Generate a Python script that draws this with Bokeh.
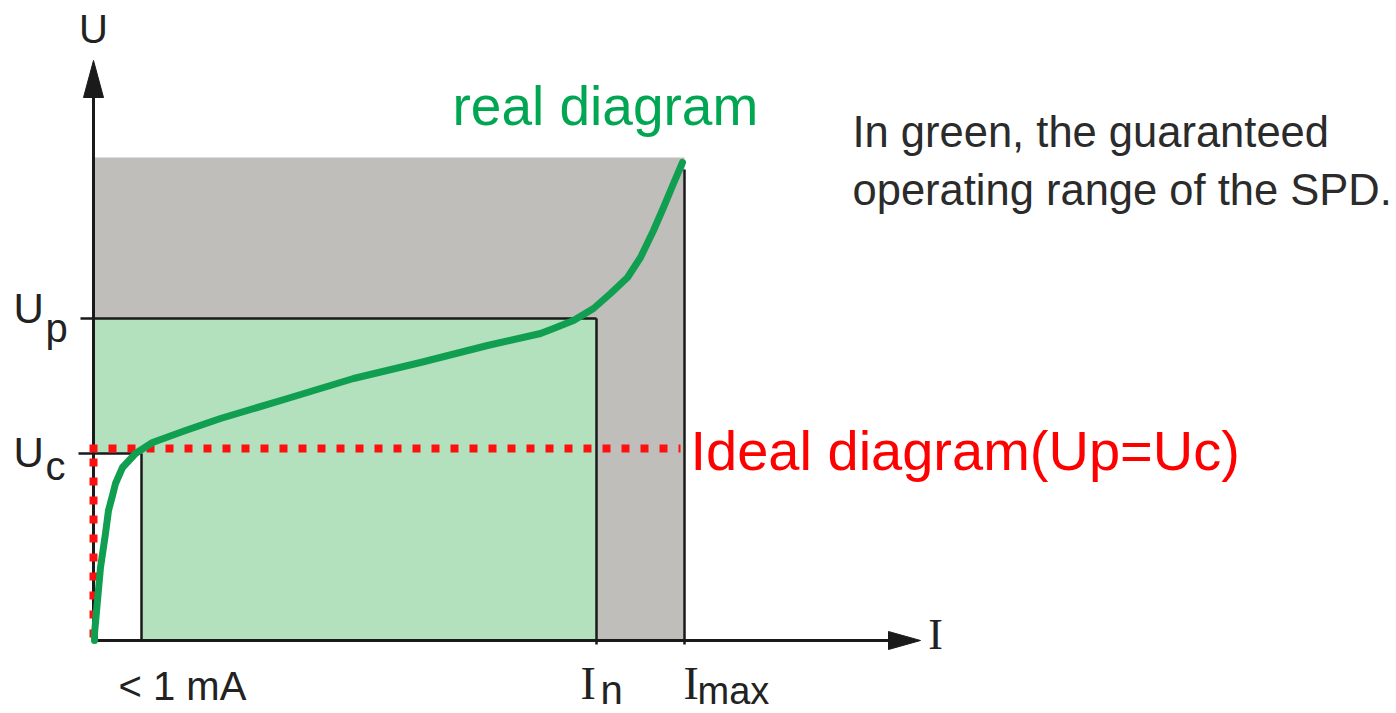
from bokeh.plotting import figure
from bokeh.models import Range1d
from bokeh.core.properties import value
from bokeh.embed import file_html
from bokeh.resources import INLINE

# ---- diagram values (units: I and U in diagram units) ----
I_leak = 48      # "< 1 mA"
I_n = 503
I_max = 591
U_c = 187
U_p = 322
U_top = 483
U_ideal = 192    # ideal clamp level (Up = Uc)
I_axis_end = 827
U_axis_end = 580

# real V-I characteristic (green curve)
curve_I = [1, 1, 4, 7, 12, 15, 19, 22, 29, 42, 59, 92, 127, 194, 260, 327, 394,
           447, 460, 480, 500, 517, 534, 547, 560, 570, 580, 589]
curve_U = [0, 7, 40, 73, 107, 130, 145, 157, 173, 187, 198, 210, 222, 242, 262, 278, 295,
           307, 312, 320, 332, 347, 363, 383, 410, 433, 457, 478]

SANS = "Liberation Sans"
SERIF = "Liberation Serif"
DARK = "#222222"

p = figure(width=1396, height=713, output_backend="svg", toolbar_location=None,
           x_range=Range1d(-93, 1303), y_range=Range1d(-73, 640), min_border=0)
p.axis.visible = False
p.grid.visible = False
p.outline_line_color = None
p.background_fill_color = "white"
p.border_fill_color = "white"

# regions
p.quad(left=[0], right=[I_max], bottom=[0], top=[U_top], fill_color="#bfbebb", line_color=None)
p.quad(left=[0], right=[I_n], bottom=[0], top=[U_p], fill_color="#b3e0bd", line_color=None)
p.quad(left=[0], right=[I_leak], bottom=[0], top=[U_c], fill_color="white", line_color=None)

# black guide lines
lw = 2.5
p.line([-13, I_n], [U_p, U_p], line_color="#1a1a1a", line_width=lw)
p.line([I_n, I_n], [-4, U_p], line_color="#1a1a1a", line_width=lw)
p.line([-15, I_leak], [U_c, U_c], line_color="#1a1a1a", line_width=lw)
p.line([I_leak, I_leak], [0, U_c], line_color="#1a1a1a", line_width=lw)
p.line([I_max, I_max], [-4, U_top - 12], line_color="#1a1a1a", line_width=lw)

# axes with arrows
p.line([0, I_axis_end - 30], [0, 0], line_color="#1a1a1a", line_width=3)
p.line([0, 0], [0, U_axis_end - 35], line_color="#1a1a1a", line_width=3)
p.patch([I_axis_end - 32, I_axis_end, I_axis_end - 32], [-9, 0, 9], fill_color="#1a1a1a", line_color="#1a1a1a")
p.patch([-10, 0, 10], [U_axis_end - 37, U_axis_end, U_axis_end - 37], fill_color="#1a1a1a", line_color="#1a1a1a")

# red ideal diagram (dotted)
p.line([-4, 587], [U_ideal, U_ideal], line_color="#ff1010", line_width=8, line_dash="8 11", line_cap="butt")
p.line([0, 0], [3, U_ideal], line_color="#ff1010", line_width=8, line_dash="8 11", line_cap="butt")

# green real curve
p.line(curve_I, curve_U, line_color="#109f50", line_width=7, line_join="round", line_cap="round")

def txt(x, y, s, size, color=DARK, font=SANS, align="left"):
    # y is the intended baseline; compensate renderer's baseline placement
    p.text(x=[x], y=[y + 0.36 * size], text=[s], text_font=value(font), text_font_size=f"{size}px",
           text_color=color, text_align=align, text_baseline="alphabetic")

# axis labels
txt(0, 597, "U", 40, align="center")
txt(842, -10, "I", 44, font=SERIF, align="center")
txt(-80, 317, "U", 42)
txt(-48, 298, "p", 40)
txt(-80, 173, "U", 42)
txt(-48, 160, "c", 40)
txt(25, -60, "< 1 mA", 40)
txt(I_n - 16, -60, "I", 46, font=SERIF)
txt(I_n + 4, -64, "n", 40)
txt(I_max - 1, -60, "I", 46, font=SERIF)
txt(I_max + 13, -64, "max", 38)

# annotations
txt(359, 515, "real diagram", 55, color="#00a651")
txt(759, 493, "In green, the guaranteed", 43.5, color="#2b2b2b")
txt(759, 435, "operating range of the SPD.", 43.5, color="#2b2b2b")
txt(597, 170, "Ideal diagram(Up=Uc)", 56, color="#ff0000")

open("out.html", "w").write(file_html(p, INLINE))
